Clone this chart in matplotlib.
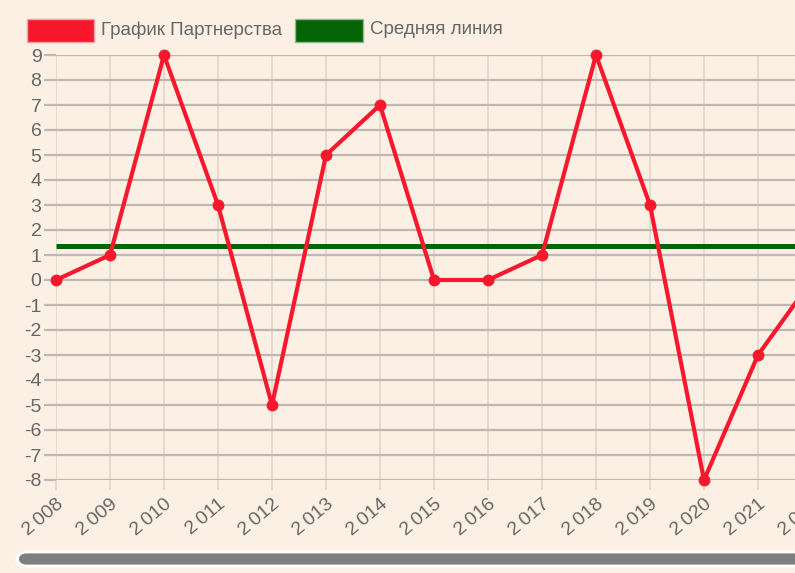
import matplotlib.pyplot as plt
from matplotlib.patches import Rectangle, FancyBboxPatch

plt.rcParams['font.family'] = ['Liberation Sans', 'DejaVu Sans']

years = [2008, 2009, 2010, 2011, 2012, 2013, 2014, 2015, 2016, 2017, 2018, 2019, 2020, 2021, 2022]
values = [0, 1, 9, 3, -5, 5, 7, 0, 0, 1, 9, 3, -8, -3, 0]
avg_value = 1.35
year_labels = ['2\u2009' + str(y)[1:] for y in years]
y_ticks = list(range(-8, 10))

BG = '#fcf0e4'
RED = '#f7182d'
GREEN = '#056405'
TXT = '#666666'

W, H = 795, 573
fig = plt.figure(figsize=(W / 100, H / 100), dpi=100, facecolor=BG)

def px(x0, y0, x1, y1):
    # pixel box (top-left origin) -> figure fraction rect
    return [x0 / W, 1 - y1 / H, (x1 - x0) / W, (y1 - y0) / H]

ax = fig.add_axes(px(56, 55, 812, 480))
ax.set_facecolor(BG)
ax.set_xlim(years[0], years[-1])
ax.set_ylim(-8, 9)

for s in ax.spines.values():
    s.set_visible(False)

ax.set_yticks(y_ticks)
ax.set_yticklabels([str(v) for v in y_ticks])
ax.set_xticks(years)
ax.set_xticklabels(year_labels, rotation=40, ha='right', rotation_mode='anchor')

ax.grid(axis='y', color='#bdb8b2', linewidth=1.6, zorder=0)
ax.grid(axis='x', color='#e3d8ce', linewidth=1.3, zorder=0)
ax.tick_params(axis='y', length=8.5, width=1.6, color='#bdb8b2', labelsize=14,
               labelcolor=TXT, pad=2)
ax.tick_params(axis='x', length=7, width=1.3, color='#e3d8ce', labelsize=14,
               labelcolor=TXT, pad=4)

ax.axhline(0, color='#222222', linewidth=1.1, zorder=1)
ax.plot([years[0], years[-1]], [avg_value, avg_value], color=GREEN, linewidth=3.6,
        solid_capstyle='butt', zorder=2)
ax.plot(years, values, color=RED, linewidth=3, marker='o', markersize=7.5,
        zorder=3, clip_on=False)

# legend
fig.add_artist(Rectangle((27 / W, 1 - 42 / H), 67 / W, 23 / H, transform=fig.transFigure,
                         facecolor=RED, edgecolor='#f5a0a8', linewidth=1))
fig.text(101 / W, 1 - 30 / H, 'График Партнерства', color=TXT, fontsize=13.5, va='center')
fig.add_artist(Rectangle((295 / W, 1 - 42 / H), 68 / W, 23 / H, transform=fig.transFigure,
                         facecolor=GREEN, edgecolor='#8fb88f', linewidth=1))
fig.text(370 / W, 1 - 30 / H, 'Средняя линия', color=TXT, fontsize=13.5, va='center')

# scrollbar
fig.add_artist(FancyBboxPatch((17 / W, 1 - 566 / H), 800 / W, 14 / H,
                              boxstyle='round,pad=0,rounding_size=0.012',
                              mutation_aspect=W / H,
                              transform=fig.transFigure, facecolor='#7f7f7f',
                              edgecolor='white', linewidth=2))

fig.savefig('out.png', dpi=100, facecolor=BG)
